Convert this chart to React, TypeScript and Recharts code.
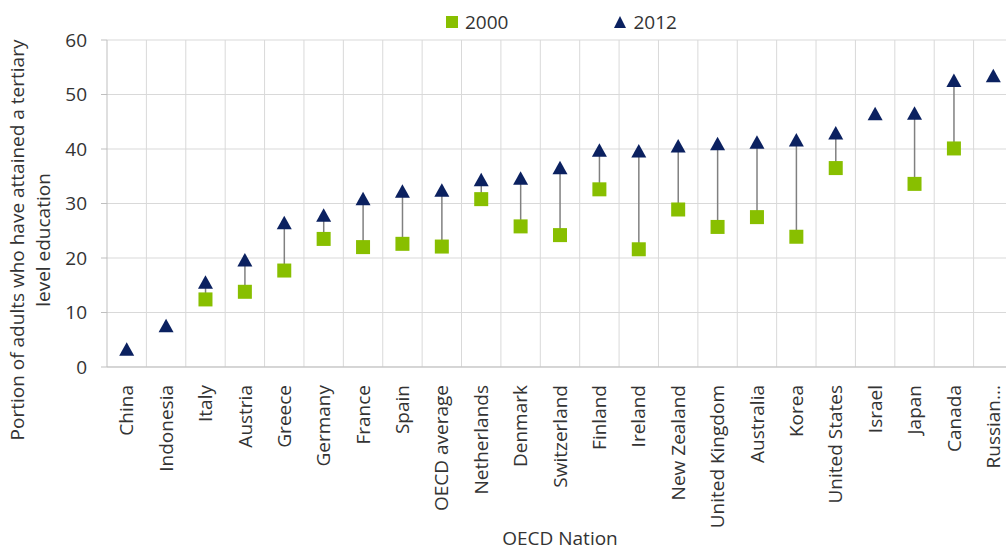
import React from 'react';
import { ComposedChart, Bar, Scatter, XAxis, YAxis, CartesianGrid } from 'recharts';

const nations = [
  'China', 'Indonesia', 'Italy', 'Austria', 'Greece', 'Germany', 'France', 'Spain',
  'OECD average', 'Netherlands', 'Denmark', 'Switzerland', 'Finland', 'Ireland',
  'New Zealand', 'United Kingdom', 'Australia', 'Korea', 'United States', 'Israel',
  'Japan', 'Canada', 'Russian...',
];
const values2000 = [
  null, null, 12.4, 13.8, 17.7, 23.5, 22.0, 22.6,
  22.1, 30.8, 25.8, 24.2, 32.6, 21.6,
  28.9, 25.7, 27.5, 23.9, 36.5, null,
  33.6, 40.1, null,
];
const values2012 = [
  3.3, 7.6, 15.6, 19.7, 26.5, 27.9, 30.9, 32.3,
  32.5, 34.4, 34.7, 36.6, 39.8, 39.7,
  40.6, 41.0, 41.3, 41.7, 43.0, 46.5,
  46.6, 52.6, 53.5,
];
const yTicks = [0, 10, 20, 30, 40, 50, 60];

const data = nations.map((name, i) => ({
  name,
  y2000: values2000[i],
  y2012: values2012[i],
  span: values2000[i] == null ? null : [values2000[i], values2012[i]],
}));

const FONT = '"Open Sans", sans-serif';
const TEXT = '#333333';
const GREEN = '#88BF00';
const NAVY = '#0B2160';
const GRID = '#D9D9D9';

const SquareDot = (p: any) => {
  if (p.cx == null || p.cy == null || p.payload?.y2000 == null) return <g />;
  const s = 14;
  return <rect x={p.cx - s / 2} y={p.cy - s / 2} width={s} height={s} fill={GREEN} />;
};

const TriangleDot = (p: any) => {
  if (p.cx == null || p.cy == null) return <g />;
  const w = 15, h = 13.5;
  const d = `M${p.cx},${p.cy - h / 2} L${p.cx + w / 2},${p.cy + h / 2} L${p.cx - w / 2},${p.cy + h / 2} Z`;
  return <path d={d} fill={NAVY} />;
};

const NationTick = ({ x, y, payload }: any) => (
  <text
    x={x}
    y={y + 10}
    transform={`rotate(-90 ${x} ${y + 10})`}
    textAnchor="end"
    dy="0.35em"
    fill={TEXT}
    fontSize={19}
    fontFamily={FONT}
  >
    {payload.value}
  </text>
);

const YTitle = () => {
  const cy = 240;
  return (
    <g fill={TEXT} fontSize={19} fontFamily={FONT}>
      <text x={17} y={cy} transform={`rotate(-90 17 ${cy})`} textAnchor="middle" dy="0.35em">
        Portion of adults who have attained a tertiary
      </text>
      <text x={43} y={cy} transform={`rotate(-90 43 ${cy})`} textAnchor="middle" dy="0.35em">
        level education
      </text>
    </g>
  );
};

const XTitle = ({ viewBox }: any) => (
  <text
    x={viewBox.x + viewBox.width / 2}
    y={538}
    textAnchor="middle"
    dy="0.35em"
    fill={TEXT}
    fontSize={19}
    fontFamily={FONT}
  >
    OECD Nation
  </text>
);

export default function App() {
  return (
    <div style={{ position: 'absolute', left: 0, top: 0, width: 1006, height: 551, overflow: 'hidden', background: '#fff' }}>
      <div style={{ position: 'absolute', left: 446, top: 16, display: 'flex', alignItems: 'center', fontFamily: FONT, fontSize: 19, color: TEXT, lineHeight: '12px' }}>
        <span style={{ width: 12, height: 12, background: GREEN, display: 'inline-block', marginRight: 7 }} />
        <span>2000</span>
        <svg width={12} height={12} style={{ marginLeft: 106, marginRight: 7 }}>
          <path d="M6,0 L12,12 L0,12 Z" fill={NAVY} />
        </svg>
        <span>2012</span>
      </div>
      <ComposedChart
        width={1020}
        height={551}
        data={data}
        margin={{ top: 40, right: 7, bottom: 0, left: 0 }}
      >
        <CartesianGrid
          stroke={GRID}
          strokeWidth={1}
          verticalCoordinatesGenerator={({ offset }: any) =>
            nations.map((_, i) => offset.left + (i * offset.width) / nations.length).slice(1)
          }
        />
        <XAxis
          dataKey="name"
          type="category"
          interval={0}
          height={184}
          tickLine={false}
          axisLine={{ stroke: '#BFBFBF' }}
          tick={<NationTick />}
          label={<XTitle />}
        />
        <YAxis
          type="number"
          domain={[0, 60]}
          ticks={yTicks}
          width={107}
          tickSize={6}
          tickMargin={14}
          tickLine={{ stroke: '#BFBFBF' }}
          axisLine={{ stroke: '#BFBFBF' }}
          tick={{ fill: TEXT, fontSize: 19, fontFamily: FONT }}
          label={<YTitle />}
        />
        <Bar dataKey="span" barSize={1.5} fill="#808080" isAnimationActive={false} />
        <Scatter dataKey="y2000" shape={<SquareDot />} isAnimationActive={false} />
        <Scatter dataKey="y2012" shape={<TriangleDot />} isAnimationActive={false} />
      </ComposedChart>
    </div>
  );
}
